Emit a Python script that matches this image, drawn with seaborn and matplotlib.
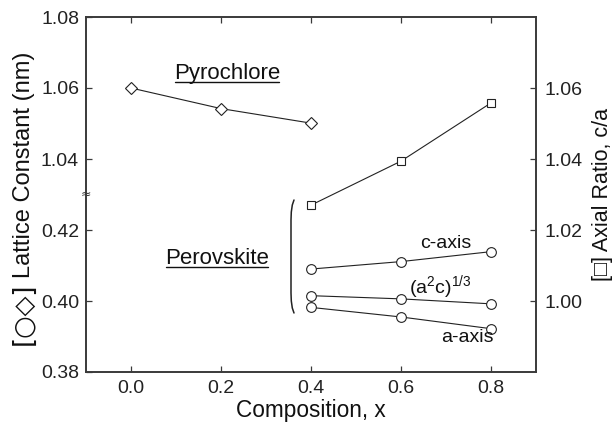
import numpy as np
import pandas as pd
import matplotlib
matplotlib.use("Agg")
import matplotlib.pyplot as plt
from matplotlib.lines import Line2D
from matplotlib.transforms import IdentityTransform
import seaborn as sns

# ---------------- data ----------------
x_pyro = [0.0, 0.2, 0.4]
lattice_pyro = [1.0600, 1.0542, 1.0501]

x_perov = [0.4, 0.6, 0.8]
c_axis = [0.4090, 0.4111, 0.4139]
a2c_cuberoot = [0.4015, 0.4006, 0.3992]
a_axis = [0.3982, 0.3955, 0.3922]
axial_ratio = [1.0270, 1.0394, 1.0558]

left_ticks = [0.38, 0.40, 0.42, 1.04, 1.06, 1.08]
left_ticklabels = ["0.38", "0.40", "0.42", "1.04", "1.06", "1.08"]
right_ticks = [1.00, 1.02, 1.04, 1.06]
right_ticklabels = ["1.00", "1.02", "1.04", "1.06"]
x_ticks = [0.0, 0.2, 0.4, 0.6, 0.8]
x_ticklabels = ["0.0", "0.2", "0.4", "0.6", "0.8"]

# ---------------- style ----------------
sns.set_theme(style="ticks")
plt.rcParams['font.family'] = ['Liberation Sans', 'DejaVu Sans']
AX_COL = "#3a3a3a"
LINE_COL = "#222222"
TXT_COL = "#111111"

fig = plt.figure(figsize=(6.13, 4.22), dpi=100)
ax = fig.add_axes([86/613, 1 - 372/422, 450/613, 355/422])

# broken left axis: upper segment (>=1.03) shifted down by 0.60
GAP = 0.60
def fwd(y):
    y = np.asarray(y, dtype=float)
    return np.where(y > 0.7, y - GAP, y)
def inv(y):
    y = np.asarray(y, dtype=float)
    return np.where(y > 0.43, y + GAP, y)
ax.set_yscale('function', functions=(fwd, inv))

common = dict(color=LINE_COL, linewidth=0.8, markerfacecolor="white",
              markeredgecolor=LINE_COL, markeredgewidth=0.8)

sns.lineplot(x=x_pyro, y=lattice_pyro, marker="D", markersize=6, ax=ax, **common)
sns.lineplot(x=x_perov, y=c_axis, marker="o", markersize=7, ax=ax, **common)
sns.lineplot(x=x_perov, y=a2c_cuberoot, marker="o", markersize=7, ax=ax, **common)
sns.lineplot(x=x_perov, y=a_axis, marker="o", markersize=7, ax=ax, **common)

ax.set_xlim(-0.1, 0.9)
ax.set_ylim(0.38, 1.08)
ax.set_yticks(left_ticks)
ax.set_yticklabels(left_ticklabels)
ax.yaxis.set_minor_locator(matplotlib.ticker.NullLocator())
ax.set_xticks(x_ticks)
ax.set_xticklabels(x_ticklabels)

ax2 = ax.twinx()
sns.lineplot(x=x_perov, y=axial_ratio, marker="s", markersize=5.5, ax=ax2, **common)
ax2.set_ylim(0.98, 1.08)
ax2.set_yticks(right_ticks)
ax2.set_yticklabels(right_ticklabels)

for a in (ax, ax2):
    for s in a.spines.values():
        s.set_color(AX_COL)
        s.set_linewidth(1.2)
        s.set_visible(True)
ax.tick_params(axis="both", direction="in", length=4, width=0.9, color=AX_COL,
               labelsize=14, labelcolor="#222222", top=True, right=False, pad=6)
ax.tick_params(axis="y", pad=5)
ax2.tick_params(axis="y", direction="in", length=4, width=0.9, color=AX_COL,
                labelsize=14, labelcolor="#222222", pad=6)

ax.set_xlabel("Composition, x", fontsize=16.3, color=TXT_COL, labelpad=1)

# left y label in two parts (symbols from DejaVu Sans, words in Liberation Sans)
ax.set_ylabel("")
LX = -0.138
ax.text(LX, (372 - 165) / 355, "Lattice Constant (nm)", transform=ax.transAxes,
        rotation=90, rotation_mode="anchor", ha="center", va="center",
        fontsize=17, color=TXT_COL)
ax.text(LX, (372 - 314) / 355, "[\u25CB\u25C7]", transform=ax.transAxes,
        rotation=90, rotation_mode="anchor", ha="center", va="center",
        fontsize=18.5, color=TXT_COL, family="DejaVu Sans")

ax2.set_ylabel("[\u25A1] Axial Ratio, c/a", fontsize=15.5, color=TXT_COL,
               rotation=90, va="center")
ax2.yaxis.set_label_coords(1.147, 0.5)

# break mark on the left spine
ax.text(0.0, 0.5, "\u2248", transform=ax.transAxes, ha="center", va="center",
        fontsize=9, color=AX_COL, family="DejaVu Sans")

# annotations
def px(xp, yp):
    return ((xp - 86) / 450, (372 - yp) / 355)

t_pyro = ax.text(*px(227, 73), "Pyrochlore", transform=ax.transAxes,
                 ha="center", va="center", fontsize=16, color=TXT_COL)
t_perov = ax.text(*px(217, 258), "Perovskite", transform=ax.transAxes,
                  ha="center", va="center", fontsize=16, color=TXT_COL)
ax.text(*px(446, 243), "c-axis", transform=ax.transAxes, ha="center",
        va="center", fontsize=14, color=TXT_COL)
ax.text(*px(440, 288), r"(a$^{\mathregular{2}}$c)$^{\mathregular{1/3}}$",
        transform=ax.transAxes, ha="center", va="center", fontsize=14,
        color=TXT_COL)
ax.text(*px(467, 338), "a-axis", transform=ax.transAxes, ha="center",
        va="center", fontsize=14, color=TXT_COL)

# bracket
br = np.array([(294, 200), (292.3, 205), (291.3, 212), (291, 220), (291, 293),
               (291.3, 301), (292.3, 308), (294, 313)], dtype=float)
bx = (br[:, 0] - 86) / 450
by = (372 - br[:, 1]) / 355
ax.plot(bx, by, transform=ax.transAxes, color=LINE_COL, linewidth=1.1,
        clip_on=False)

# underlines
fig.canvas.draw()
r = fig.canvas.get_renderer()
for t in (t_pyro, t_perov):
    bb = t.get_window_extent(renderer=r)
    fig.add_artist(Line2D([bb.x0 + 1, bb.x1 - 1], [bb.y0 + 1.5, bb.y0 + 1.5],
                          transform=IdentityTransform(), color=TXT_COL,
                          linewidth=1.0))

fig.savefig("out.png", dpi=100)
